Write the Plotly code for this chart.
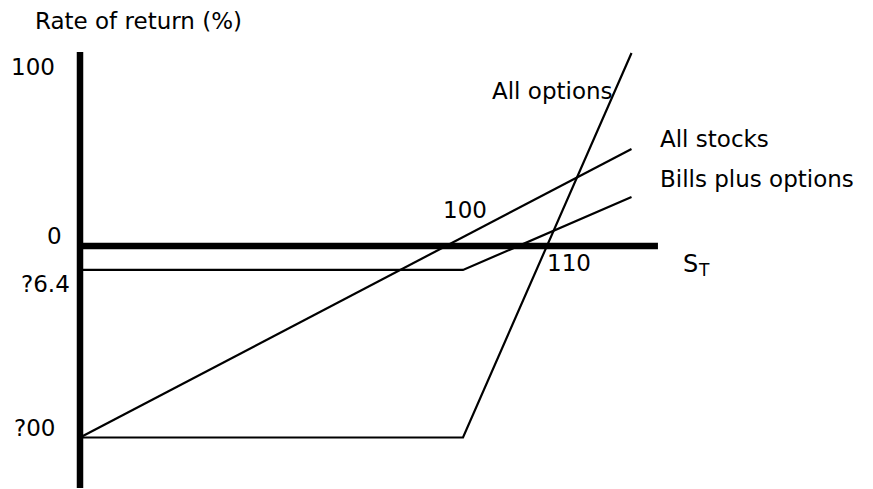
import plotly.graph_objects as go

# ---- data (drawn units: S_T along x, rate of return along y) ----
stock_x = [0, 144]
stock_y = [-100, 50.7]

options_x = [0, 100, 144]
options_y = [-100, -100, 100.8]

bills_x = [0, 100, 144]
bills_y = [-12.5, -12.5, 25.6]

series_names = ["All stocks", "All options", "Bills plus options"]
ytick_labels = ["100", "0", "?6.4", "?00"]
point_labels = ["100", "110"]

# ---- figure (page body has an 8px margin) ----
OFF = 8
W, H = 873 - OFF, 489 - OFF
x0, x1 = -18.799, 207.05
y0, y1 = -126.89, 124.28

FONT = "DejaVu Sans"
fig = go.Figure()

line = dict(color="black", width=2.2)
fig.add_trace(go.Scatter(x=stock_x, y=stock_y, mode="lines", line=line, name=series_names[0]))
fig.add_trace(go.Scatter(x=options_x, y=options_y, mode="lines", line=line, name=series_names[1]))
fig.add_trace(go.Scatter(x=bills_x, y=bills_y, mode="lines", line=line, name=series_names[2]))

# axes drawn as thick lines
fig.add_shape(type="line", x0=0, x1=0, y0=-126.4, y1=101.3,
              line=dict(color="black", width=6.5), layer="above")
fig.add_shape(type="line", x0=0, x1=150.9, y0=0, y1=0,
              line=dict(color="black", width=6.5), layer="above")


def ann(text, px, py, xanchor="left", size=23):
    # px, py are page-pixel positions of the label in the reference
    fig.add_annotation(text=text, x=(px - OFF) / W, y=1 - (py - OFF) / H,
                       xref="paper", yref="paper",
                       xanchor=xanchor, yanchor="middle", showarrow=False,
                       font=dict(family=FONT, size=size, color="black"))


ann("Rate of return (%)", 33, 21)
ann(ytick_labels[0], 57, 67, "right")
ann(ytick_labels[1], 64, 236, "right")
ann(ytick_labels[2], 72, 284, "right")
ann(ytick_labels[3], 57, 428, "right")
ann(point_labels[0], 441, 210)
ann(point_labels[1], 545, 263)
ann(series_names[1], 490, 91)
ann(series_names[0], 658, 139)
ann(series_names[2], 658, 179)
ann("S", 681, 264, size=24)
ann("T", 696, 270, size=17)

fig.update_layout(
    width=W, height=H,
    margin=dict(l=0, r=0, t=0, b=0),
    paper_bgcolor="white", plot_bgcolor="white",
    showlegend=False,
    xaxis=dict(range=[x0, x1], visible=False, fixedrange=True),
    yaxis=dict(range=[y0, y1], visible=False, fixedrange=True),
)

fig.write_html("out.html")
